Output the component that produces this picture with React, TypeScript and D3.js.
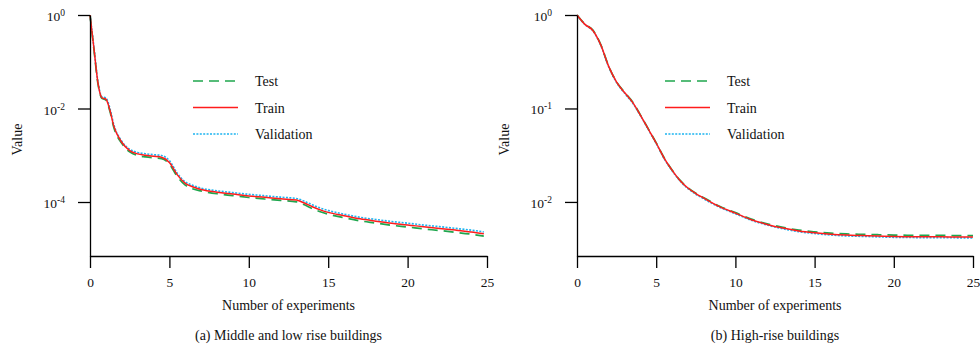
import React from 'react';
import * as d3 from 'd3';

// Panel (a): middle and low rise buildings
const xLow = [0, 0.25, 0.5, 0.75, 1, 1.25, 1.5, 2, 2.5, 3, 3.5, 4, 4.5, 5, 5.5, 6, 6.5, 7, 8, 9, 10, 11, 12, 13, 13.5, 14, 14.5, 15, 16, 17, 18, 19, 20, 21, 22, 23, 24, 24.8];
const trainLow = [1, 0.19, 0.0355, 0.017, 0.0158, 0.0093, 0.0042, 0.0019, 0.00126, 0.00107, 0.001, 0.00095, 0.00091, 0.0007, 0.00038, 0.00025, 0.00021, 0.000186, 0.000162, 0.000148, 0.000135, 0.000126, 0.000117, 0.00011, 0.000095, 0.000079, 0.000068, 0.00006, 0.000051, 0.0000437, 0.0000389, 0.000035, 0.0000324, 0.0000295, 0.0000272, 0.0000251, 0.0000229, 0.0000209];
const testLow = [1, 0.18, 0.034, 0.0165, 0.0152, 0.0088, 0.0039, 0.0018, 0.00118, 0.00099, 0.00092, 0.00088, 0.00085, 0.00065, 0.00035, 0.00023, 0.00019, 0.000172, 0.00015, 0.000137, 0.000125, 0.000116, 0.000108, 0.000101, 0.000087, 0.000072, 0.000062, 0.000055, 0.000046, 0.0000395, 0.0000355, 0.0000318, 0.0000292, 0.0000266, 0.0000246, 0.0000225, 0.0000205, 0.0000187];
const validLow = [1, 0.2, 0.037, 0.0178, 0.0168, 0.0102, 0.0045, 0.002, 0.00135, 0.00115, 0.00108, 0.00103, 0.00099, 0.00077, 0.00041, 0.00027, 0.000225, 0.000198, 0.000174, 0.000159, 0.000146, 0.000136, 0.000127, 0.000119, 0.000104, 0.000087, 0.000074, 0.000066, 0.000055, 0.0000472, 0.0000423, 0.0000383, 0.0000353, 0.0000322, 0.0000298, 0.0000273, 0.000025, 0.0000229];

// Panel (b): high-rise buildings
const xHigh = [0, 0.5, 1, 1.5, 2, 2.5, 3, 3.5, 4, 4.5, 5, 5.5, 6, 6.5, 7, 7.5, 8, 9, 10, 11, 12, 13, 14, 15, 16, 17, 18, 19, 20, 21, 22, 23, 24, 25];
const trainHigh = [1, 0.794, 0.684, 0.479, 0.282, 0.191, 0.148, 0.117, 0.0851, 0.0603, 0.0427, 0.0295, 0.0219, 0.017, 0.0141, 0.0123, 0.011, 0.00891, 0.00759, 0.00646, 0.00575, 0.00525, 0.0049, 0.00468, 0.00452, 0.00442, 0.00437, 0.00432, 0.00427, 0.00425, 0.00424, 0.00423, 0.00422, 0.00421];
const testHigh = [1, 0.8, 0.69, 0.482, 0.284, 0.192, 0.149, 0.118, 0.0855, 0.0606, 0.0429, 0.0297, 0.022, 0.0171, 0.0142, 0.0124, 0.0111, 0.009, 0.00768, 0.00655, 0.00585, 0.00535, 0.005, 0.00479, 0.00464, 0.00455, 0.0045, 0.00446, 0.00442, 0.0044, 0.00439, 0.00438, 0.00437, 0.00436];
const validHigh = [1, 0.79, 0.68, 0.475, 0.279, 0.189, 0.146, 0.115, 0.0842, 0.0596, 0.0422, 0.0291, 0.0216, 0.0168, 0.0139, 0.0121, 0.0108, 0.00878, 0.00748, 0.00637, 0.00566, 0.00516, 0.00481, 0.00459, 0.00443, 0.00433, 0.00428, 0.00423, 0.00418, 0.00416, 0.00415, 0.00414, 0.00413, 0.00412];

const xTicks = [0, 5, 10, 15, 20, 25];
const yTicksLow = [1, 1e-2, 1e-4];
const yTicksHigh = [1, 1e-1, 1e-2];
const seriesNames = ['Test', 'Train', 'Validation'];
const captions = ['(a) Middle and low rise buildings', '(b) High-rise buildings'];

const FONT = '"Liberation Serif", "Times New Roman", serif';
const styles = {
  Test: { color: '#1fa64e', dash: '10,6', width: 1.7 },
  Train: { color: '#ff1c1c', dash: null, width: 1.5 },
  Validation: { color: '#1db4f0', dash: '2,1.4', width: 1.6 },
};

const App = () => {
  const ref = React.useRef<SVGSVGElement>(null);

  React.useEffect(() => {
    const svg = d3.select(ref.current);
    svg.selectAll('*').remove();

    const top = 15;
    const bottom = 256;

    const panels = [
      { left: 90, right: 487, xs: xLow, data: { Test: testLow, Train: trainLow, Validation: validLow }, yMin: 7e-6, yTicks: yTicksLow, legendX: 193, caption: captions[0] },
      { left: 577, right: 973, xs: xHigh, data: { Test: testHigh, Train: trainHigh, Validation: validHigh }, yMin: 0.00264, yTicks: yTicksHigh, legendX: 665, caption: captions[1] },
    ];

    panels.forEach(p => {
      const g = svg.append('g');
      const x = d3.scaleLinear().domain([0, 25]).range([p.left, p.right]);
      const y = d3.scaleLog().domain([p.yMin, 1]).range([bottom, top]);

      // curves: validation underneath, train on top
      ['Validation', 'Test', 'Train'].forEach(name => {
        const vals = p.data[name];
        const line = d3.line<number>()
          .x((d, i) => x(p.xs[i]))
          .y(d => y(d))
          .curve(d3.curveMonotoneX);
        const st = styles[name];
        g.append('path')
          .attr('d', line(vals))
          .attr('fill', 'none')
          .attr('stroke', st.color)
          .attr('stroke-width', st.width)
          .attr('stroke-dasharray', st.dash);
      });

      // x axis
      const xAxis = g.append('g')
        .attr('transform', `translate(0,${bottom})`)
        .call(d3.axisBottom(x).tickValues(xTicks).tickSize(12).tickSizeOuter(0).tickPadding(9).tickFormat(d3.format('d')));
      xAxis.selectAll('path, line').attr('stroke', '#000').attr('stroke-width', 1.3);
      xAxis.selectAll('text').style('font-family', FONT).style('font-size', '13.5px').attr('fill', '#111');

      // y axis
      const yAxis = g.append('g')
        .attr('transform', `translate(${p.left},0)`)
        .call(d3.axisLeft(y).tickValues(p.yTicks).tickSize(12).tickSizeOuter(0).tickFormat(() => ''));
      yAxis.selectAll('path, line').attr('stroke', '#000').attr('stroke-width', 1.3);

      p.yTicks.forEach(t => {
        const txt = g.append('text')
          .attr('x', p.left - 25)
          .attr('y', y(t) + 6)
          .attr('text-anchor', 'end')
          .style('font-family', FONT)
          .style('font-size', '13.5px')
          .attr('fill', '#111');
        txt.append('tspan').text('10');
        txt.append('tspan')
          .attr('dy', -5)
          .style('font-size', '9.5px')
          .text(String(Math.round(Math.log10(t))));
      });

      // axis titles
      g.append('text')
        .attr('x', (p.left + p.right) / 2)
        .attr('y', 310)
        .attr('text-anchor', 'middle')
        .style('font-family', FONT)
        .style('font-size', '14px')
        .attr('fill', '#111')
        .text('Number of experiments');

      g.append('text')
        .attr('transform', `translate(${p.left - 68},${(top + bottom) / 2 + 4}) rotate(-90)`)
        .attr('text-anchor', 'middle')
        .style('font-family', FONT)
        .style('font-size', '14px')
        .attr('fill', '#111')
        .text('Value');

      g.append('text')
        .attr('x', (p.left + p.right) / 2)
        .attr('y', 340)
        .attr('text-anchor', 'middle')
        .style('font-family', FONT)
        .style('font-size', '14px')
        .attr('fill', '#111')
        .text(p.caption);

      // legend
      const legendY = d3.scalePoint().domain(seriesNames).range([81, 134]);
      seriesNames.forEach(name => {
        const st = styles[name];
        const ly = legendY(name);
        g.append('line')
          .attr('x1', p.legendX)
          .attr('x2', p.legendX + 45)
          .attr('y1', ly)
          .attr('y2', ly)
          .attr('stroke', st.color)
          .attr('stroke-width', st.width)
          .attr('stroke-dasharray', st.dash);
        g.append('text')
          .attr('x', p.legendX + 62)
          .attr('y', ly + 5)
          .style('font-family', FONT)
          .style('font-size', '14px')
          .attr('fill', '#111')
          .text(name);
      });
    });
  }, []);

  return (
    <div style={{ position: 'absolute', left: 0, top: 0 }}>
      <svg ref={ref} width={980} height={349} style={{ display: 'block', background: '#fff' }} />
    </div>
  );
};

export default App;
